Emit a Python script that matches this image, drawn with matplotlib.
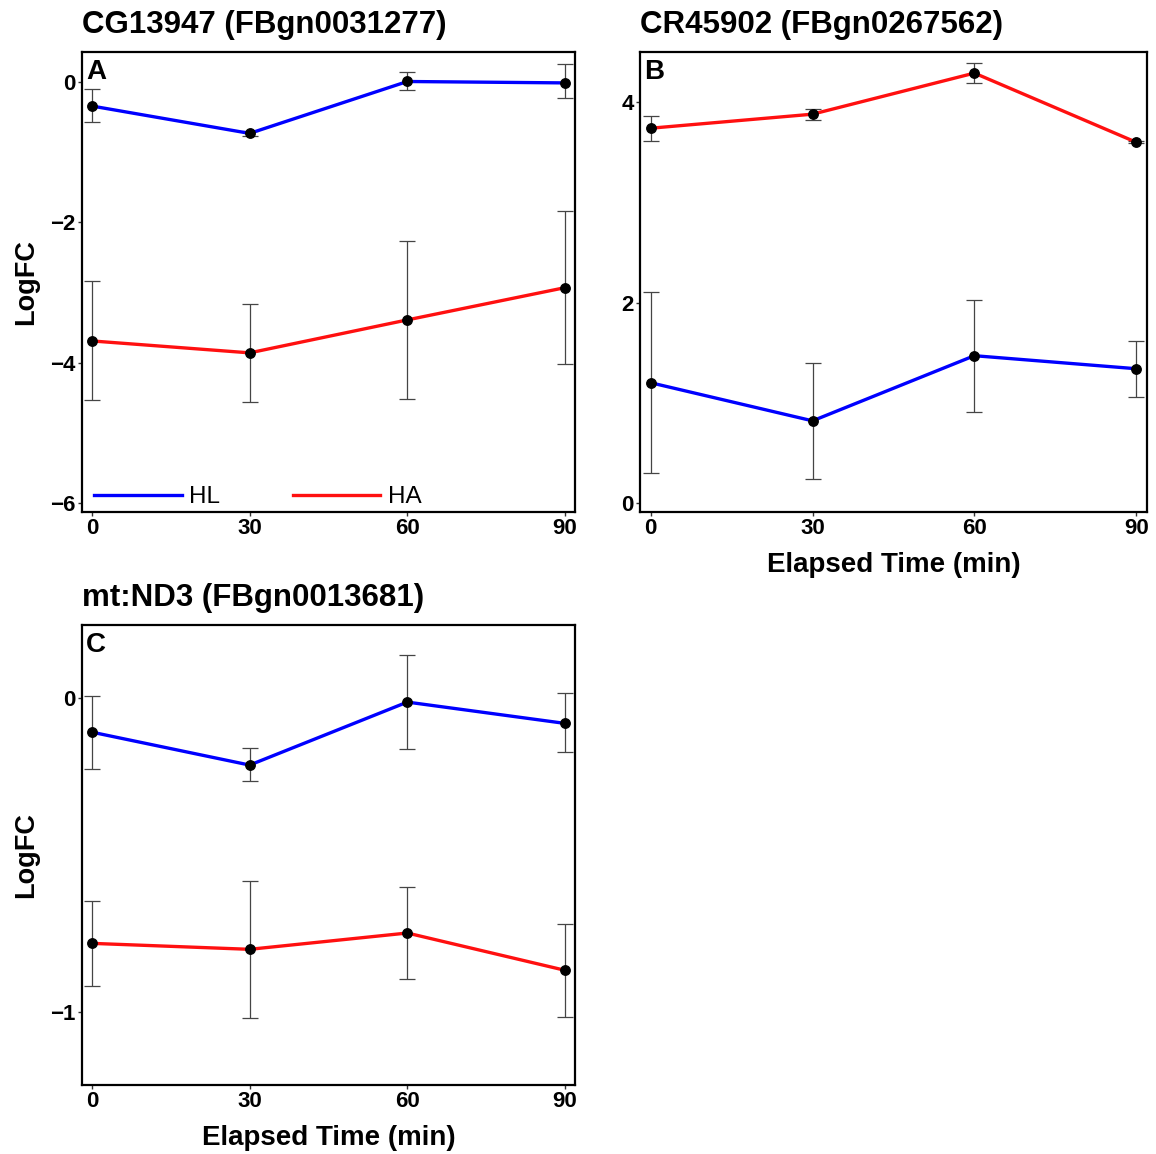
import matplotlib
matplotlib.use("Agg")
import matplotlib.pyplot as plt
import numpy as np

plt.rcParams['font.family'] = ['Liberation Sans', 'DejaVu Sans']

times = [0, 30, 60, 90]
xtick_labels = ["0", "30", "60", "90"]

# Panel A: CG13947
a_title = "CG13947 (FBgn0031277)"
a_hl = [-0.34, -0.73, 0.01, -0.01]
a_hl_lo = [-0.57, -0.77, -0.11, -0.23]
a_hl_hi = [-0.10, -0.69, 0.14, 0.26]
a_ha = [-3.69, -3.86, -3.39, -2.93]
a_ha_lo = [-4.53, -4.56, -4.52, -4.02]
a_ha_hi = [-2.83, -3.17, -2.26, -1.83]
a_yticks = [0, -2, -4, -6]

# Panel B: CR45902
b_title = "CR45902 (FBgn0267562)"
b_hl = [1.20, 0.82, 1.47, 1.34]
b_hl_lo = [0.30, 0.24, 0.91, 1.06]
b_hl_hi = [2.11, 1.40, 2.03, 1.62]
b_ha = [3.74, 3.88, 4.29, 3.60]
b_ha_lo = [3.61, 3.82, 4.19, 3.59]
b_ha_hi = [3.86, 3.93, 4.39, 3.61]
b_yticks = [0, 2, 4]

# Panel C: mt:ND3
c_title = "mt:ND3 (FBgn0013681)"
c_hl = [-0.108, -0.213, -0.012, -0.080]
c_hl_lo = [-0.226, -0.264, -0.162, -0.172]
c_hl_hi = [0.008, -0.160, 0.139, 0.016]
c_ha = [-0.782, -0.801, -0.749, -0.868]
c_ha_lo = [-0.918, -1.019, -0.895, -1.016]
c_ha_hi = [-0.647, -0.582, -0.603, -0.720]
c_yticks = [0, -1]

HL_COLOR = "#0000FF"
HA_COLOR = "#FF1010"

fig = plt.figure(figsize=(11.56, 11.54), dpi=100)

panels = [
    dict(rect=[0.0709, 0.5563, 0.4265, 0.3986], title=a_title, letter="A",
         hl=(a_hl, a_hl_lo, a_hl_hi), ha=(a_ha, a_ha_lo, a_ha_hi),
         yticks=a_yticks, ylim=(-6.13, 0.43), xlim=(-1.9, 91.9),
         ylabel=True, xlabel=False, legend=True),
    dict(rect=[0.5536, 0.5563, 0.4386, 0.3986], title=b_title, letter="B",
         hl=(b_hl, b_hl_lo, b_hl_hi), ha=(b_ha, b_ha_lo, b_ha_hi),
         yticks=b_yticks, ylim=(-0.09, 4.50), xlim=(-2.0, 92.0),
         ylabel=False, xlabel=True, legend=False),
    dict(rect=[0.0709, 0.0598, 0.4265, 0.3986], title=c_title, letter="C",
         hl=(c_hl, c_hl_lo, c_hl_hi), ha=(c_ha, c_ha_lo, c_ha_hi),
         yticks=c_yticks, ylim=(-1.234, 0.234), xlim=(-1.9, 91.9),
         ylabel=True, xlabel=True, legend=False),
]

for p in panels:
    ax = fig.add_axes(p["rect"])
    handles = []
    for (vals, lo, hi), col, lab in [(p["hl"], HL_COLOR, "HL"), (p["ha"], HA_COLOR, "HA")]:
        vals = np.array(vals); lo = np.array(lo); hi = np.array(hi)
        ln, = ax.plot(times, vals, color=col, lw=2.4, zorder=3, label=lab)
        handles.append(ln)
        ax.errorbar(times, vals, yerr=[vals - lo, hi - vals], fmt='none',
                    ecolor='#454545', elinewidth=0.9, capsize=6, capthick=0.9,
                    zorder=2)
        ax.plot(times, vals, 'o', color='black', ms=6.8, zorder=4)
    ax.set_xlim(*p["xlim"])
    ax.set_ylim(*p["ylim"])
    ax.set_xticks(times)
    ax.set_xticklabels(xtick_labels)
    ax.set_yticks(p["yticks"])
    ax.set_yticklabels([str(v).replace('-', '\u2212') for v in p["yticks"]])
    for lbl in ax.get_xticklabels() + ax.get_yticklabels():
        lbl.set_fontweight('bold')
        lbl.set_fontsize(16)
        lbl.set_color('black')
    ax.tick_params(axis='both', length=3, width=1, color='#333333', pad=1.5)
    for s in ax.spines.values():
        s.set_linewidth(1.6)
        s.set_color('black')
    ax.set_title(p["title"], loc='left', fontsize=22.5, fontweight='bold', pad=13.5)
    ax.text(0.008, 0.985, p["letter"], transform=ax.transAxes, fontsize=20,
            fontweight='bold', va='top', ha='left')
    if p["ylabel"]:
        ax.set_ylabel("LogFC", fontsize=19.5, fontweight='bold', labelpad=8)
    if p["xlabel"]:
        ax.set_xlabel("Elapsed Time (min)", fontsize=20, fontweight='bold', labelpad=9)
    if p["legend"]:
        ax.legend(handles=handles, loc='lower left', ncol=2, frameon=False,
                  fontsize=17.5, handlelength=3.6, handletextpad=0.3,
                  columnspacing=3.0, borderaxespad=0.0, borderpad=0.3,
                  bbox_to_anchor=(0.01, -0.008))

fig.savefig("out.png", dpi=100)
